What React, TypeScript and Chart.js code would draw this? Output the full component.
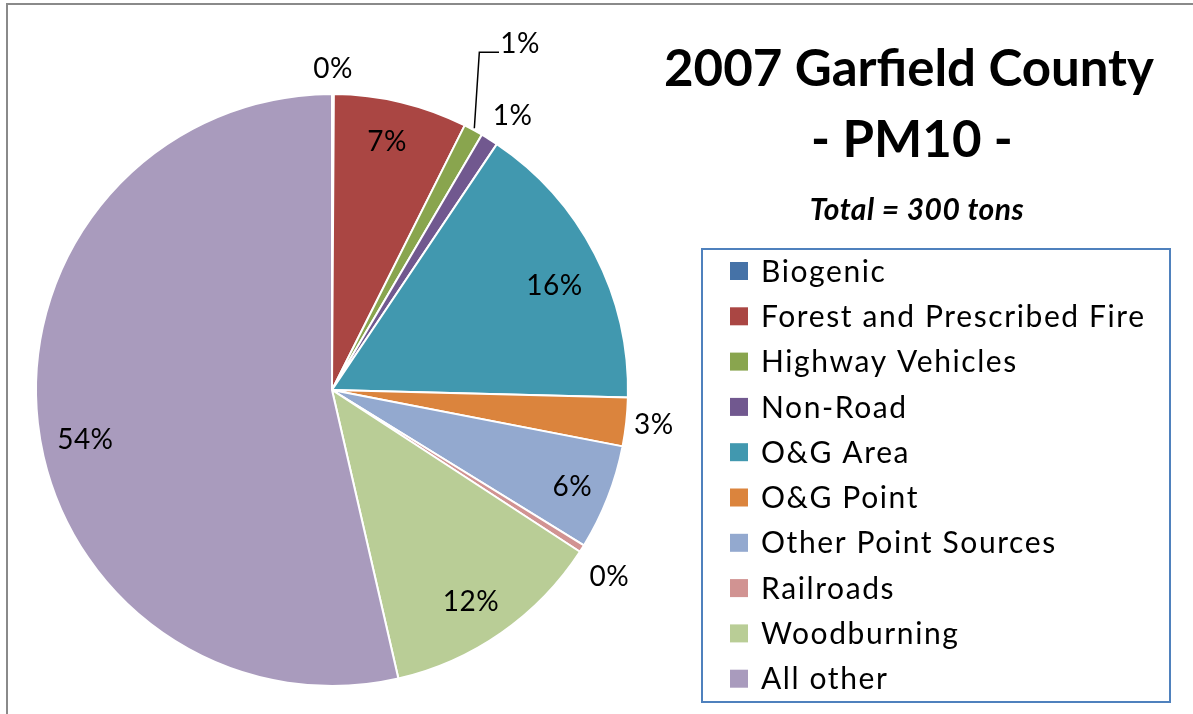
import React, { useEffect, useRef } from "react";
import { Chart, registerables } from "chart.js";

Chart.register(...registerables);

const categories = [
  "Biogenic",
  "Forest and Prescribed Fire",
  "Highway Vehicles",
  "Non-Road",
  "O&G Area",
  "O&G Point",
  "Other Point Sources",
  "Railroads",
  "Woodburning",
  "All other",
];

// share of 2007 PM10 emissions, percent (total = 300 tons)
const shares = [0.1, 7.3, 1.05, 0.95, 16.0, 2.65, 5.75, 0.4, 12.2, 53.6];

const colors = [
  "#4572A7",
  "#AA4643",
  "#89A54E",
  "#71588F",
  "#4198AF",
  "#DB843D",
  "#93A9CF",
  "#D19392",
  "#B9CD96",
  "#A99BBD",
];

const titleLines = ["2007 Garfield County", "- PM10 -"];
const subtitle = "Total = 300 tons";

// label placement: radius factor and angular nudge (deg)
const labelRadius = [1.085, 0.86, 1.33, 1.108, 0.83, 1.094, 0.875, 1.13, 0.855, 0.85];
const labelNudge = [0, -1, 0, 1.3, 2.3, 0, 0.6, 1.6, 1.6, -4.9];

const FONT = "Lato, 'Open Sans', sans-serif";

const overlay = {
  id: "overlay",
  beforeDraw(chart: any) {
    const ctx = chart.ctx;
    ctx.save();
    ctx.fillStyle = "#ffffff";
    ctx.fillRect(0, 0, chart.width, chart.height);
    ctx.strokeStyle = "#8a8a8a";
    ctx.lineWidth = 2;
    ctx.beginPath();
    ctx.moveTo(7, chart.height);
    ctx.lineTo(7, 4);
    ctx.lineTo(chart.width, 4);
    ctx.stroke();
    ctx.restore();
  },
  afterDraw(chart: any) {
    const ctx = chart.ctx;
    const meta = chart.getDatasetMeta(0);
    const data = chart.data.datasets[0].data as number[];
    const total = data.reduce((a: number, b: number) => a + b, 0);
    ctx.save();
    // percentage labels
    ctx.fillStyle = "#000";
    ctx.font = `28px ${FONT}`;
    (ctx as any).letterSpacing = "0.5px";
    ctx.textAlign = "center";
    ctx.textBaseline = "middle";
    meta.data.forEach((arc: any, i: number) => {
      const p = arc.getProps(["x", "y", "startAngle", "endAngle", "outerRadius"], true);
      const mid = (p.startAngle + p.endAngle) / 2 + (labelNudge[i] * Math.PI) / 180;
      const r = p.outerRadius * labelRadius[i];
      const lx = p.x + Math.cos(mid) * r;
      const ly = p.y + Math.sin(mid) * r;
      const txt = Math.round((data[i] / total) * 100) + "%";
      ctx.fillText(txt, lx, ly);
      if (i === 2) {
        const midA = (p.startAngle + p.endAngle) / 2;
        const sx = p.x + Math.cos(midA) * (p.outerRadius + 2);
        const sy = p.y + Math.sin(midA) * (p.outerRadius + 2);
        ctx.strokeStyle = "#000";
        ctx.lineWidth = 1.5;
        ctx.beginPath();
        ctx.moveTo(sx, sy);
        ctx.lineTo(sx + 5, ly + 8);
        ctx.lineTo(lx - 21, ly + 8);
        ctx.stroke();
      }
    });
    (ctx as any).letterSpacing = "0px";

    // title
    ctx.font = `bold 51px ${FONT}`;
    ctx.fillText(titleLines[0], 909, 70);
    ctx.fillText(titleLines[1], 912, 141);
    ctx.font = `italic bold 30px ${FONT}`;
    (ctx as any).letterSpacing = "0.5px";
    ctx.fillText(subtitle, 917, 210);

    // legend box
    ctx.strokeStyle = "#4F81BD";
    ctx.lineWidth = 2;
    ctx.strokeRect(702, 249, 468, 453);
    ctx.font = `30px ${FONT}`;
    (ctx as any).letterSpacing = "1.6px";
    ctx.textAlign = "left";
    chart.data.labels.forEach((lab: string, i: number) => {
      const cy = 271 + i * 45.3;
      ctx.fillStyle = colors[i];
      ctx.fillRect(730, cy - 9, 18, 18);
      ctx.fillStyle = "#000";
      ctx.fillText(lab, 761, cy + 1);
    });
    ctx.restore();
  },
};

export default function App() {
  const ref = useRef<HTMLCanvasElement>(null);
  useEffect(() => {
    if (!ref.current) return;
    const chart = new Chart(ref.current, {
      type: "pie",
      data: {
        labels: categories,
        datasets: [
          {
            data: shares,
            backgroundColor: colors,
            borderColor: "#ffffff",
            borderWidth: 2,
          },
        ],
      },
      options: {
        responsive: false,
        animation: false,
        layout: { padding: { left: 35, right: 564, top: 92, bottom: 26 } },
        plugins: {
          legend: { display: false },
          tooltip: { enabled: false },
          title: { display: false },
        },
      },
      plugins: [overlay],
    });
    return () => chart.destroy();
  }, []);
  return (
    <div style={{ position: "fixed", left: 0, top: 0, width: 1193, height: 714, background: "#fff" }}>
      <canvas ref={ref} width={1193} height={714} style={{ width: 1193, height: 714 }} />
    </div>
  );
}
